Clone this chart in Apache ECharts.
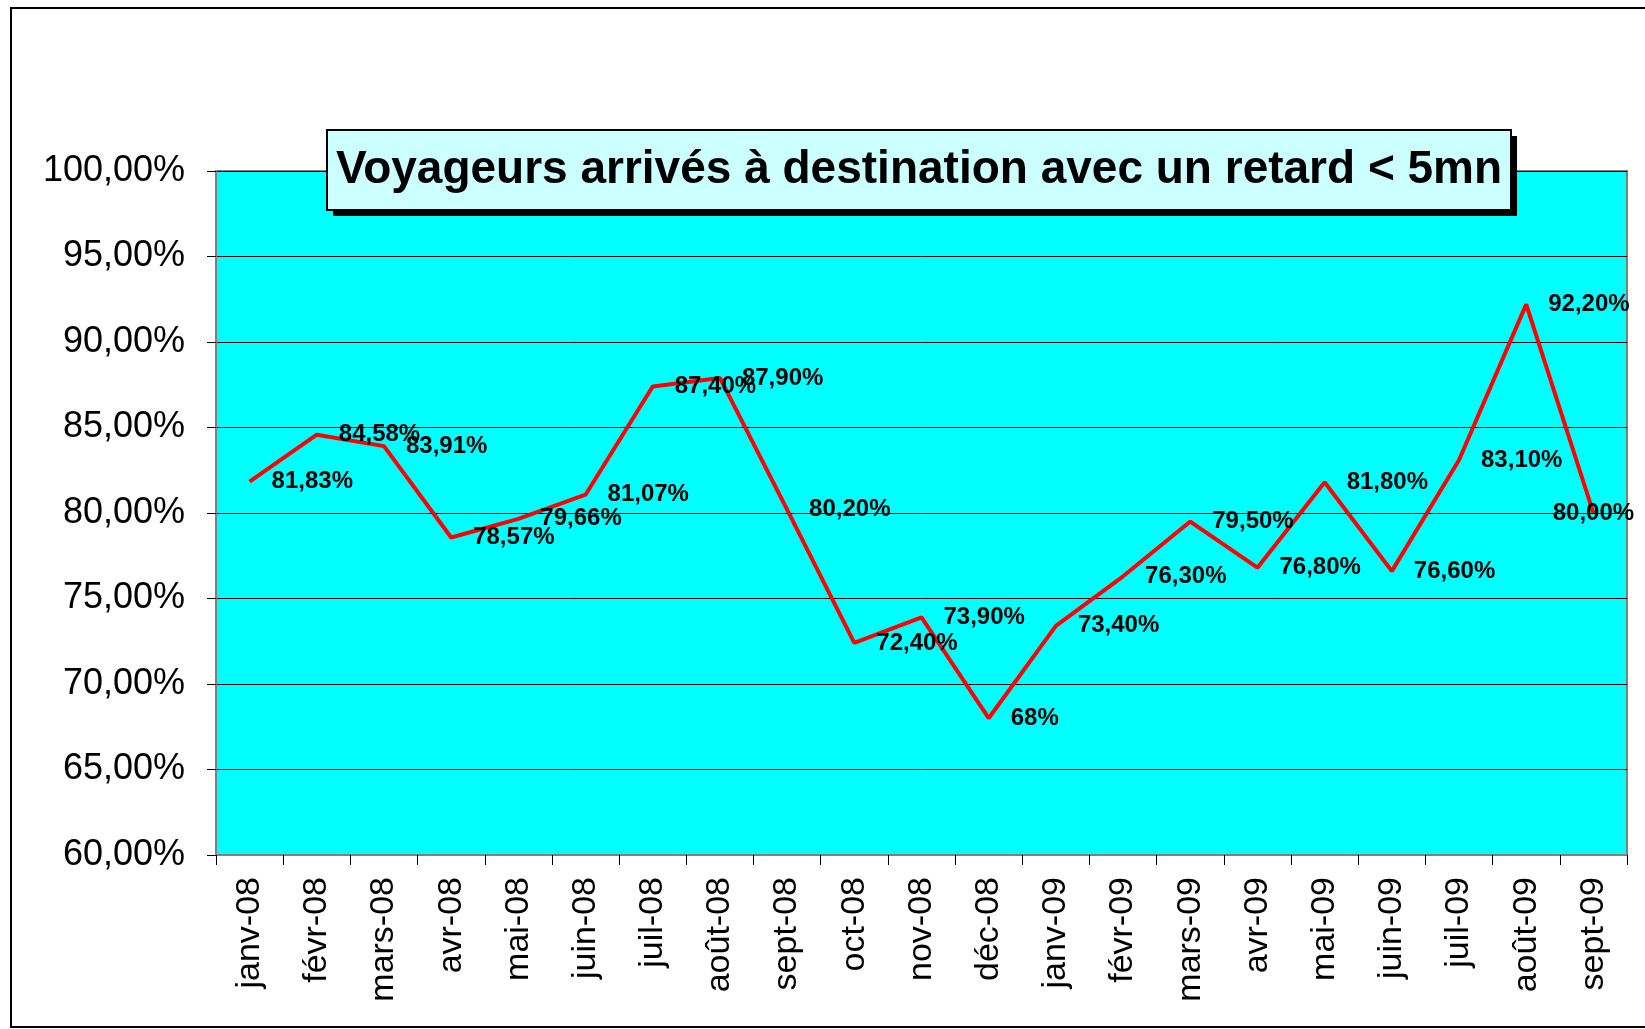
<!DOCTYPE html>
<html>
<head>
<meta charset="utf-8">
<script src="https://cdn.jsdelivr.net/npm/echarts@6/dist/echarts.min.js"></script>
<style>
  html, body { margin: 0; padding: 0; background: #fff; }
  #chart { width: 1645px; height: 1029px; }
</style>
</head>
<body>
<div id="chart"></div>
<script>
var months = ['janv-08', 'févr-08', 'mars-08', 'avr-08', 'mai-08', 'juin-08', 'juil-08',
  'août-08', 'sept-08', 'oct-08', 'nov-08', 'déc-08', 'janv-09', 'févr-09', 'mars-09',
  'avr-09', 'mai-09', 'juin-09', 'juil-09', 'août-09', 'sept-09'];
var ponctualite = [81.83, 84.58, 83.91, 78.57, 79.66, 81.07, 87.40, 87.90, 80.20, 72.40,
  73.90, 68, 73.40, 76.30, 79.50, 76.80, 81.80, 76.60, 83.10, 92.20, 80.00];
var labelText = ['81,83%', '84,58%', '83,91%', '78,57%', '79,66%', '81,07%', '87,40%',
  '87,90%', '80,20%', '72,40%', '73,90%', '68%', '73,40%', '76,30%', '79,50%', '76,80%',
  '81,80%', '76,60%', '83,10%', '92,20%', '80,00%'];
var yTicks = [60, 65, 70, 75, 80, 85, 90, 95, 100];
var titre = 'Voyageurs arrivés à destination avec un retard < 5mn';

var chart = echarts.init(document.getElementById('chart'), null, { renderer: 'canvas' });

var seriesData = ponctualite.map(function (v, i) {
  var item = { value: v };
  if (i === ponctualite.length - 1) {
    // last label sits on the point, like in the original
    item.label = { position: 'inside', offset: [20, 1] };
  }
  return item;
});

chart.setOption({
  animation: false,
  backgroundColor: '#ffffff',
  grid: {
    left: 216,
    top: 171,
    width: 1411,
    height: 684,
    show: true,
    backgroundColor: '#00ffff',
    borderColor: '#808080',
    borderWidth: 2
  },
  xAxis: {
    type: 'category',
    data: months,
    boundaryGap: true,
    axisLine: { show: true, lineStyle: { color: '#808080', width: 2 } },
    axisTick: { show: true, length: 10, lineStyle: { color: '#000', width: 1 } },
    axisLabel: {
      rotate: 90,
      margin: 22,
      interval: 0,
      color: '#000',
      fontFamily: 'Liberation Sans, Arial, sans-serif',
      fontSize: 34
    },
    splitLine: { show: false }
  },
  yAxis: {
    type: 'value',
    min: yTicks[0],
    max: yTicks[yTicks.length - 1],
    interval: 5,
    axisLine: { show: true, lineStyle: { color: '#808080', width: 2 } },
    axisTick: { show: true, length: 9, lineStyle: { color: '#000', width: 1 } },
    axisLabel: {
      margin: 31,
      color: '#000',
      fontFamily: 'Liberation Sans, Arial, sans-serif',
      fontSize: 36,
      formatter: function (v) { return v.toFixed(2).replace('.', ',') + '%'; }
    },
    splitLine: { show: true, lineStyle: { color: '#000', width: 1 } }
  },
  series: [{
    type: 'line',
    data: seriesData,
    symbol: 'circle',
    symbolSize: 0,
    showSymbol: true,
    lineStyle: { color: '#ff0000', width: 4 },
    itemStyle: { color: '#ff0000' },
    labelLayout: { hideOverlap: false },
    label: {
      show: true,
      position: 'right',
      distance: 22,
      offset: [0, 1],
      color: '#000',
      fontFamily: 'Liberation Sans, Arial, sans-serif',
      fontWeight: 'bold',
      fontSize: 24,
      formatter: function (p) { return labelText[p.dataIndex]; }
    },
    z: 5
  }],
  graphic: [
    {
      type: 'rect',
      z: 0,
      silent: true,
      shape: { x: 11, y: 8, width: 1700, height: 1019 },
      style: { fill: 'none', stroke: '#000', lineWidth: 2 }
    },
    {
      type: 'rect',
      z: 100,
      silent: true,
      shape: { x: 333, y: 136, width: 1184, height: 80 },
      style: { fill: '#000' }
    },
    {
      type: 'rect',
      z: 101,
      silent: true,
      shape: { x: 327, y: 130, width: 1184, height: 80 },
      style: { fill: '#ccffff', stroke: '#000', lineWidth: 2 }
    },
    {
      type: 'text',
      z: 102,
      silent: true,
      x: 919,
      y: 170,
      style: {
        text: titre,
        fill: '#000',
        font: 'bold 46px "Liberation Sans", Arial, sans-serif',
        textAlign: 'center',
        textVerticalAlign: 'middle'
      }
    }
  ]
});
</script>
</body>
</html>
